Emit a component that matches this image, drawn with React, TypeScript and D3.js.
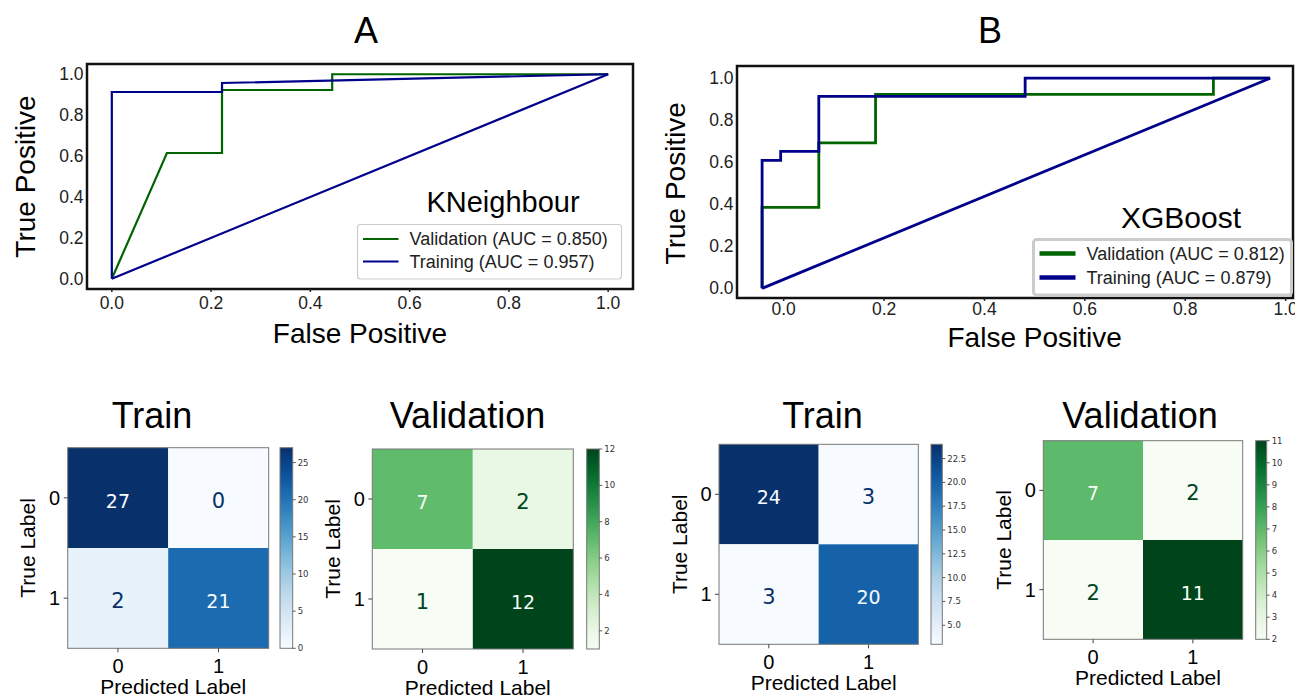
import * as d3 from "d3";

// ---- ROC data (false positive rate, true positive rate) ----
const rocTicks = [0, 0.2, 0.4, 0.6, 0.8, 1.0];

const knnValidation: [number, number][] = [
  [0, 0], [0.111, 0.615], [0.222, 0.615], [0.222, 0.923], [0.444, 0.923], [0.444, 1], [1, 1],
];
const knnTraining: [number, number][] = [
  [0, 0], [0, 0.913], [0.222, 0.913], [0.222, 0.957], [1, 1],
];
const knnChance: [number, number][] = [[0, 0], [1, 1]];

const xgbValidation: [number, number][] = [
  [-0.043, 0], [-0.043, 0.385], [0.07, 0.385], [0.07, 0.692], [0.183, 0.692],
  [0.183, 0.923], [0.856, 0.923], [0.856, 1], [0.969, 1],
];
const xgbTraining: [number, number][] = [
  [-0.043, 0], [-0.043, 0.609], [-0.006, 0.609], [-0.006, 0.652], [0.07, 0.652],
  [0.07, 0.913], [0.481, 0.913], [0.481, 1], [0.969, 1],
];
const xgbChance: [number, number][] = [[-0.043, 0], [0.969, 1]];

const knnLegend = ["Validation (AUC = 0.850)", "Training (AUC = 0.957)"];
const xgbLegend = ["Validation (AUC = 0.812)", "Training (AUC = 0.879)"];

// ---- confusion matrices ----
const cmLabels = ["0", "1"];
const knnTrainCm = [[27, 0], [2, 21]];
const knnValCm = [[7, 2], [1, 12]];
const xgbTrainCm = [[24, 3], [3, 20]];
const xgbValCm = [[7, 2], [2, 11]];

const knnTrainBarTicks = [0, 5, 10, 15, 20, 25];
const knnValBarTicks = [2, 4, 6, 8, 10, 12];
const xgbTrainBarTicks = [5, 7.5, 10, 12.5, 15, 17.5, 20, 22.5];
const xgbValBarTicks = [2, 3, 4, 5, 6, 7, 8, 9, 10, 11];

const sans = "'Liberation Sans', Arial, sans-serif";
const dejavu = "'DejaVu Sans', sans-serif";
const green = "#006400";
const navy = "#00008b";

type RocProps = {
  box: [number, number, number, number]; // left, top, right, bottom
  xDomain: [number, number];
  yDomain: [number, number];
  validation: [number, number][];
  training: [number, number][];
  chance: [number, number][];
  legend: string[];
  legendBox: [number, number, number, number];
  legendRows: [number, number];
  legendLine: [number, number];
  legendStroke: number;
  borderW: number;
  lineW: number;
  name: string;
  nameAt: [number, number];
  nameSize: number;
  title: string;
  titleX: number;
  yLabelX: number;
  xLabelY: number;
  xTickDy: number;
};

function Roc(p: RocProps) {
  const [l, t, r, b] = p.box;
  const x = d3.scaleLinear(p.xDomain, [l, r]);
  const y = d3.scaleLinear(p.yDomain, [b, t]);
  const line = d3.line<[number, number]>().x(d => x(d[0])).y(d => y(d[1]));
  const [lx, ly, lw, lh] = p.legendBox;
  const [s0, s1] = p.legendLine;
  return (
    <g>
      <text x={p.titleX} y={43} textAnchor="middle" fontFamily={sans} fontSize={36}>{p.title}</text>
      <rect x={l} y={t} width={r - l} height={b - t} fill="white" />
      <path d={line(p.validation)!} fill="none" stroke={green} strokeWidth={p.lineW} />
      <path d={line(p.training)!} fill="none" stroke={navy} strokeWidth={p.lineW} />
      <path d={line(p.chance)!} fill="none" stroke={navy} strokeWidth={p.lineW} />
      <rect x={l} y={t} width={r - l} height={b - t} fill="none" stroke="#111" strokeWidth={2.5} />
      {rocTicks.map(v => (
        <g key={"x" + v}>
          <line x1={x(v)} x2={x(v)} y1={b} y2={b + 3} stroke="#223" strokeWidth={1.5} />
          <text x={x(v)} y={b + p.xTickDy} textAnchor="middle" dominantBaseline="central"
            fontFamily={sans} fontSize={17.5} fill="#222">{v.toFixed(1)}</text>
        </g>
      ))}
      {rocTicks.map(v => (
        <text key={"y" + v} x={l - 3.5} y={y(v)} textAnchor="end" dominantBaseline="central"
          fontFamily={sans} fontSize={17.5} fill="#222">{v.toFixed(1)}</text>
      ))}
      <text transform={`translate(${p.yLabelX},${(y(0) + y(1)) / 2}) rotate(-90)`} textAnchor="middle"
        dominantBaseline="central" fontFamily={sans} fontSize={28}>True Positive</text>
      <text x={(x(0) + x(1)) / 2} y={p.xLabelY} textAnchor="middle" dominantBaseline="central"
        fontFamily={sans} fontSize={28}>False Positive</text>
      <text x={p.nameAt[0]} y={p.nameAt[1]} textAnchor="middle" fontFamily={sans} fontSize={p.nameSize}>{p.name}</text>
      <rect x={lx} y={ly} width={lw} height={lh} rx={3} fill="white" fillOpacity={0.85}
        stroke="#cccccc" strokeWidth={p.borderW} />
      {p.legend.map((txt, i) => (
        <g key={txt}>
          <line x1={s0} x2={s1} y1={p.legendRows[i]} y2={p.legendRows[i]}
            stroke={i === 0 ? green : navy} strokeWidth={p.legendStroke} />
          <text x={s1 + 11} y={p.legendRows[i]} dominantBaseline="central" fontFamily={sans}
            fontSize={18} fill="#222">{txt}</text>
        </g>
      ))}
    </g>
  );
}

type CmProps = {
  id: string;
  cm: number[][];
  interp: (t: number) => string;
  barTicks: number[];
  barFormat: string;
  box: [number, number, number, number];
  bar: [number, number];
  title: string;
  titleX: number;
};

function Matrix(p: CmProps) {
  const [l, t, r, b] = p.box;
  const flat = p.cm.flat();
  const lo = d3.min(flat)!;
  const hi = d3.max(flat)!;
  const color = d3.scaleSequential(p.interp).domain([lo, hi]);
  const bx = d3.scaleBand(cmLabels, [l, r]);
  const by = d3.scaleBand(cmLabels, [t, b]);
  const barY = d3.scaleLinear([lo, hi], [b, t]);
  const fmt = d3.format(p.barFormat);
  const stops = d3.range(0, 1.0001, 0.05);
  const [c0, c1] = p.bar;
  return (
    <g>
      <defs>
        <linearGradient id={p.id} x1="0" y1="1" x2="0" y2="0">
          {stops.map(s => <stop key={s} offset={s} stopColor={p.interp(s)} />)}
        </linearGradient>
      </defs>
      <text x={p.titleX} y={428} textAnchor="middle" fontFamily={sans} fontSize={36}>{p.title}</text>
      {p.cm.map((row, i) => row.map((v, j) => {
        const light = v > (lo + hi) / 2;
        return (
          <g key={i + "-" + j}>
            <rect x={bx(cmLabels[j])} y={by(cmLabels[i])} width={bx.bandwidth()} height={by.bandwidth()}
              fill={color(v)} />
            <text x={bx(cmLabels[j])! + bx.bandwidth() / 2} y={by(cmLabels[i])! + by.bandwidth() / 2 + 3}
              textAnchor="middle" dominantBaseline="central" fontFamily={dejavu} fontSize={light ? 19 : 21}
              fill={light ? p.interp(0) : p.interp(1)}>{v}</text>
          </g>
        );
      }))}
      <rect x={l} y={t} width={r - l} height={b - t} fill="none" stroke="#777" strokeWidth={1} />
      {cmLabels.map(k => (
        <g key={"t" + k}>
          <line x1={l - 4} x2={l} y1={by(k)! + by.bandwidth() / 2} y2={by(k)! + by.bandwidth() / 2} stroke="#444" />
          <text x={l - 7.5} y={by(k)! + by.bandwidth() / 2} textAnchor="end" dominantBaseline="central"
            fontFamily={sans} fontSize={20}>{k}</text>
          <line x1={bx(k)! + bx.bandwidth() / 2} x2={bx(k)! + bx.bandwidth() / 2} y1={b} y2={b + 4} stroke="#444" />
          <text x={bx(k)! + bx.bandwidth() / 2} y={b + 17.5} textAnchor="middle" dominantBaseline="central"
            fontFamily={sans} fontSize={20}>{k}</text>
        </g>
      ))}
      <text transform={`translate(${l - 40},${(t + b) / 2}) rotate(-90)`} textAnchor="middle"
        dominantBaseline="central" fontFamily={sans} fontSize={21}>True Label</text>
      <text x={(l + r) / 2 + 5} y={b + 38.5} textAnchor="middle" dominantBaseline="central"
        fontFamily={sans} fontSize={21}>Predicted Label</text>
      <rect x={c0} y={t} width={c1 - c0} height={b - t} fill={`url(#${p.id})`} stroke="#777" strokeWidth={1} />
      {p.barTicks.map(v => (
        <g key={"c" + v}>
          <line x1={c1} x2={c1 + 3} y1={barY(v)} y2={barY(v)} stroke="#333" strokeWidth={0.8} />
          <text x={c1 + 5} y={barY(v)} dominantBaseline="central" fontFamily={dejavu} fontSize={8.5}
            fill="#333">{fmt(v)}</text>
        </g>
      ))}
    </g>
  );
}

export default function App() {
  return (
    <svg width={1295} height={699} style={{ position: "absolute", left: 0, top: 0, background: "white" }}>
      <rect width={1295} height={699} fill="white" />
      <Roc box={[87, 64, 633, 289]} xDomain={[-0.05, 1.05]} yDomain={[-0.05, 1.05]}
        validation={knnValidation} training={knnTraining} chance={knnChance} legend={knnLegend}
        legendBox={[357.5, 224.5, 264, 54.5]} legendRows={[239, 261.5]} legendLine={[363, 398.5]}
        legendStroke={2.2} borderW={1.2} lineW={2.2} name="KNeighbour" nameAt={[503, 211.5]} nameSize={29}
        title="A" titleX={366} yLabelX={25} xLabelY={333} xTickDy={14} />
      <Roc box={[737, 66, 1293, 298]} xDomain={[-0.093, 1.0146]} yDomain={[-0.046, 1.058]}
        validation={xgbValidation} training={xgbTraining} chance={xgbChance} legend={xgbLegend}
        legendBox={[1033.5, 239.5, 258, 55.5]} legendRows={[253.5, 277.5]} legendLine={[1039.5, 1075.5]}
        legendStroke={4.5} borderW={3} lineW={2.8} name="XGBoost" nameAt={[1181, 228.3]} nameSize={30}
        title="B" titleX={990} yLabelX={675} xLabelY={337} xTickDy={11} />
      <Matrix id="g1" cm={knnTrainCm} interp={d3.interpolateBlues} barTicks={knnTrainBarTicks} barFormat="d"
        box={[67.7, 447.7, 268.7, 648.3]} bar={[280, 292.7]} title="Train" titleX={152} />
      <Matrix id="g2" cm={knnValCm} interp={d3.interpolateGreens} barTicks={knnValBarTicks} barFormat="d"
        box={[372.3, 449, 573.3, 649]} bar={[586.7, 599.3]} title="Validation" titleX={467.5} />
      <Matrix id="g3" cm={xgbTrainCm} interp={d3.interpolateBlues} barTicks={xgbTrainBarTicks} barFormat=".1f"
        box={[719, 444.3, 918.3, 644.3]} bar={[931, 942.3]} title="Train" titleX={822.5} />
      <Matrix id="g4" cm={xgbValCm} interp={d3.interpolateGreens} barTicks={xgbValBarTicks} barFormat="d"
        box={[1043.3, 440.7, 1242.7, 639.3]} bar={[1255.7, 1266.7]} title="Validation" titleX={1140} />
    </svg>
  );
}
